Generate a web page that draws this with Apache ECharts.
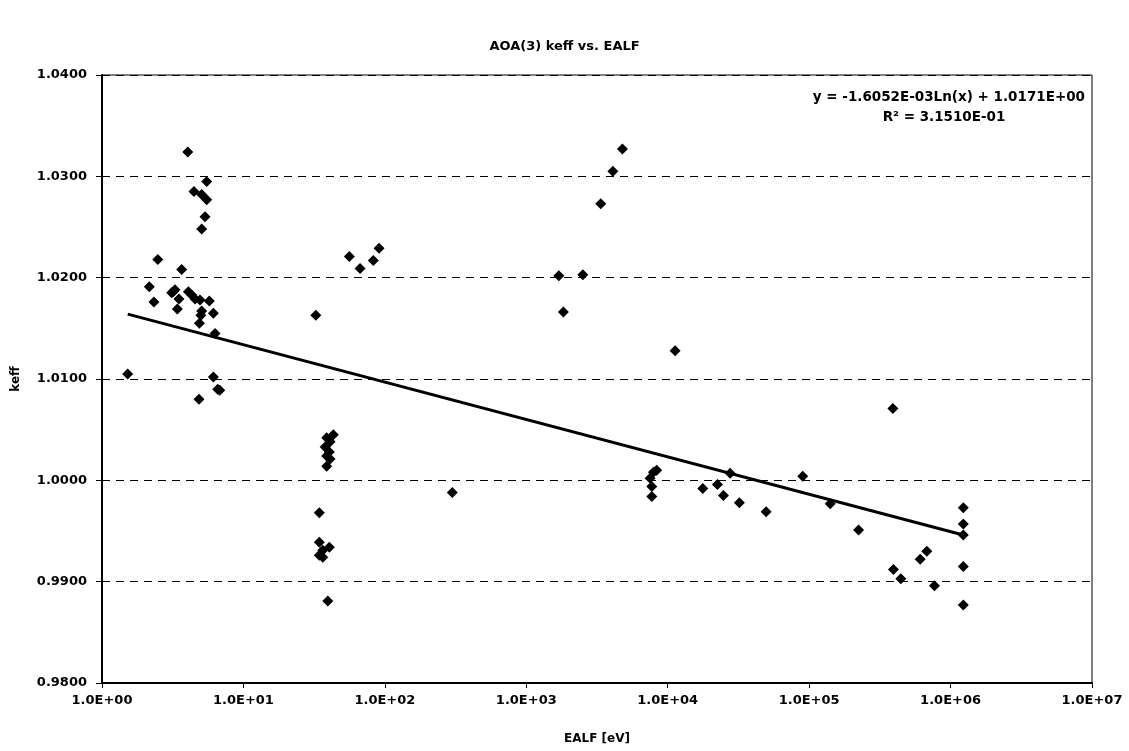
<!DOCTYPE html>
<html><head><meta charset="utf-8">
<script src="https://cdn.jsdelivr.net/npm/echarts@6/dist/echarts.min.js"></script>
<style>html,body{margin:0;padding:0;background:#fff}#c{width:1129px;height:751px}</style>
</head><body><div id="c"></div>
<script>
var chartTitle = 'AOA(3) keff vs. EALF';
var xName = 'EALF [eV]';
var yName = 'keff';
var equationLines = ['y = -1.6052E-03Ln(x) + 1.0171E+00', 'R\u00B2 = 3.1510E-01'];

var ealf = [1.52,2.16,2.33,2.48,3.11,3.19,3.28,3.41,3.50,3.66,4.04,4.08,4.31,4.47,4.55,4.85,4.88,4.93,5.0,5.07,5.07,5.07,5.35,5.50,5.50,5.74,6.13,6.13,6.30,6.58,6.8,
  32.5,34.4,34.4,34.4,36.4,36.4,37.8,38.8,38.8,38.8,39.5,40.5,40.5,41.0,41.0,43.2,56.1,66.8,82.9,91.0,300,
  1698,1829,2510,3363,4093,4786,7510,7720,7720,7925,8360,11280,17700,22480,24780,27620,32130,49630,90160,140900,223600,390900,394600,444800,609700,679000,769000,1230000,1230000,1230000,1230000,1230000];
var keff = [1.0105,1.0191,1.0176,1.0218,1.0185,1.0186,1.0188,1.0169,1.0179,1.0208,1.0324,1.0186,1.0183,1.0285,1.0179,1.0080,1.0155,1.0178,1.0163,1.0282,1.0248,1.0167,1.0260,1.0295,1.0277,1.0177,1.0165,1.0102,1.0145,1.0090,1.0089,
  1.0163,0.9968,0.9939,0.9926,0.9931,0.9924,1.0033,1.0042,1.0024,1.0014,0.9881,1.0028,0.9934,1.0038,1.0021,1.0045,1.0221,1.0209,1.0217,1.0229,0.9988,
  1.0202,1.0166,1.0203,1.0273,1.0305,1.0327,1.0002,0.9994,0.9984,1.0008,1.0010,1.0128,0.9992,0.9996,0.9985,1.0007,0.9978,0.9969,1.0004,0.9977,0.9951,1.0071,0.9912,0.9903,0.9922,0.9930,0.9896,0.9973,0.9957,0.9946,0.9915,0.9877];
var trendX = [1.52, 1230000];
var trendY = [1.0164, 0.9946];

var pts = ealf.map(function(x,i){return [x, keff[i]];});
var trend = trendX.map(function(x,i){return [x, trendY[i]];});

var font = '"DejaVu Sans", sans-serif';
var chart = echarts.init(document.getElementById('c'), null, {renderer:'canvas'});
chart.setOption({
  animation:false,
  backgroundColor:'#fff',
  title:{text:chartTitle,left:'center',top:35,textStyle:{fontFamily:font,fontWeight:'bold',fontSize:13,color:'#000'}},
  grid:{left:102,right:37,top:75,bottom:68,show:true,borderColor:'#000',borderWidth:1,backgroundColor:'transparent'},
  xAxis:{type:'log',logBase:10,min:1,max:10000000,
    name:xName,nameLocation:'middle',nameGap:50,
    nameTextStyle:{fontFamily:font,fontWeight:'bold',fontSize:12,color:'#000'},
    axisLine:{show:true,onZero:false,lineStyle:{color:'#000',width:2}},
    axisTick:{show:true,length:5,lineStyle:{color:'#000'}},
    minorTick:{show:false},
    splitLine:{show:false},
    axisLabel:{fontFamily:font,fontWeight:'bold',fontSize:13,color:'#000',margin:11,
      formatter:function(v){var e=Math.round(Math.log10(v));return '1.0E+'+(e<10?'0':'')+e;}}
  },
  yAxis:{type:'value',min:0.98,max:1.04,interval:0.01,
    name:yName,nameLocation:'middle',nameGap:80,nameRotate:90,
    nameTextStyle:{fontFamily:font,fontWeight:'bold',fontSize:12,color:'#000'},
    axisLine:{show:true,onZero:false,lineStyle:{color:'#000',width:2}},
    axisTick:{show:true,length:6,lineStyle:{color:'#000'}},
    splitLine:{show:true,lineStyle:{color:'#000',type:[8,6],width:1}},
    axisLabel:{fontFamily:font,fontWeight:'bold',fontSize:13,color:'#000',margin:15,
      formatter:function(v){return v.toFixed(4);}}
  },
  graphic:[
    {type:'text',x:1085,y:97,style:{text:equationLines[0],font:'bold 13.5px '+font,fill:'#000',textAlign:'right',textVerticalAlign:'middle'}},
    {type:'text',x:944,y:117,style:{text:equationLines[1],font:'bold 13.5px '+font,fill:'#000',textAlign:'center',textVerticalAlign:'middle'}}
  ],
  series:[
    {type:'scatter',data:pts,symbol:'diamond',symbolSize:11,itemStyle:{color:'#000',opacity:1},z:3},
    {type:'line',data:trend,symbol:'none',lineStyle:{color:'#000',width:3},z:2}
  ]
});
</script></body></html>
